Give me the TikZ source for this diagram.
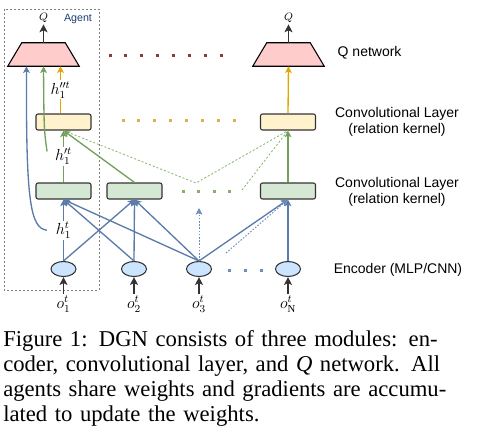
\documentclass[tikz,border=0pt]{standalone}
\usepackage{fontspec}
\setmainfont{Liberation Serif}
\setsansfont{Liberation Sans}
\usetikzlibrary{arrows.meta,calc,shapes.geometric}

\definecolor{lineblue}{HTML}{5B7BAA}
\definecolor{linegreen}{HTML}{73A05A}
\definecolor{lineyellow}{HTML}{E6A400}
\definecolor{qred}{HTML}{FFCCCC}
\definecolor{yellowfill}{HTML}{FFF2CC}
\definecolor{greenfill}{HTML}{D5E8D4}
\definecolor{encblue}{HTML}{CCE5FF}
\definecolor{boxline}{HTML}{333333}
\definecolor{dotred}{HTML}{8E3B3B}
\definecolor{dotyellow}{HTML}{D8B24A}
\definecolor{dotgreen}{HTML}{82B366}
\definecolor{dotblue}{HTML}{6C8EBF}
\definecolor{agentblue}{HTML}{1C3D73}

\tikzset{
  tip/.style={-{Stealth[length=5pt,width=5pt,inset=1.2pt]}},
  qnet/.style={rectangle, minimum width=53.25pt, minimum height=17.25pt, inner sep=0pt},
  convbox/.style={rectangle, rounded corners=1.5pt, draw=boxline, line width=0.8pt,
    minimum width=41.25pt, minimum height=12pt, inner sep=0pt},
  enc/.style={ellipse, draw=boxline, fill=encblue, line width=0.8pt,
    minimum width=18.75pt, minimum height=11.25pt, inner sep=0pt},
  blueline/.style={tip, draw=lineblue, line width=1pt},
  gline/.style={tip, draw=linegreen, line width=1pt},
  yline/.style={tip, draw=lineyellow, line width=1pt},
  inarrow/.style={-{Stealth[length=6pt,width=6pt,inset=1.5pt]}, draw=boxline, line width=1.4pt},
  gdash/.style={draw=dotgreen, line width=0.6pt, dash pattern=on 1.5pt off 1.5pt},
  bdot/.style={tip, draw=dotblue, line width=0.7pt, dash pattern=on 1.2pt off 1.2pt},
  hlab/.style={fill=white, inner sep=1pt, font=\fontsize{11.5}{13}\selectfont},
  olab/.style={inner sep=1pt, font=\fontsize{12}{13}\selectfont},
  qlab/.style={inner sep=1pt, font=\fontsize{8}{9}\selectfont},
  sidelab/.style={align=center, font=\sffamily\fontsize{10.5}{12.5}\selectfont},
}

\begin{document}
\begin{tikzpicture}[x=0.75pt,y=-0.75pt]
\useasboundingbox (0,0) rectangle (479,436);

% agent frame
\draw[gray, line width=0.7pt, dash pattern=on 1.5pt off 1.5pt] (4,9) rectangle (99,290);
\node[font=\sffamily\fontsize{8}{9}\selectfont, text=agentblue] (agent) at (78,19) {Agent};

% Q networks
\node[qnet] (qa) at (43.5,54.5) {};
\node[qnet] (qn) at (288.5,54.5) {};
\foreach \q in {qa,qn}
  \draw[fill=qred, line width=0.8pt] (\q.south west) -- (\q.south east)
    -- ($(\q.north east)+(-14,0)$) -- ($(\q.north west)+(14,0)$) -- cycle;
\node[qlab] (qla) at (43.5,18) {$Q$};
\node[qlab] (qln) at (288.5,18) {$Q$};
\draw[inarrow, line width=1pt] (qa.north) -- (qla.south);
\draw[inarrow, line width=1pt] (qn.north) -- (qln.south);

% convolutional layers
\node[convbox, fill=yellowfill] (ya) at (63.5,122) {};
\node[convbox, fill=yellowfill] (yn) at (288,122) {};
\node[convbox, fill=greenfill] (ga) at (63.5,191) {};
\node[convbox, fill=greenfill] (gb) at (134.5,191) {};
\node[convbox, fill=greenfill] (gn) at (288,191) {};

% encoders
\node[enc] (ea) at (63.5,269) {};
\node[enc] (eb) at (134,269) {};
\node[enc] (ec) at (199,269) {};
\node[enc] (en) at (288,269) {};

% observations
\node[olab] (oa) at (63.5,304) {$o_1^t$};
\node[olab] (ob) at (134,304) {$o_2^t$};
\node[olab] (oc) at (199,304) {$o_3^t$};
\node[olab] (on) at (288,304) {$o_{\mathrm{N}}^t$};
\foreach \o/\e in {oa/ea, ob/eb, oc/ec, on/en}
  \draw[inarrow] (\o.north) -- (\e.south);

% dots
\foreach \i in {0,...,7}
  \fill[dotred] (110+\i*15.9-1.5,53.5) rectangle ++(3,3);
\foreach \i in {0,...,7}
  \fill[dotyellow] (123+\i*15.9-1.5,118.5) rectangle ++(3,3);
\foreach \i in {0,...,3}
  \fill[dotgreen] (183+\i*15.6-1.5,189.5) rectangle ++(3,3);
\foreach \i in {0,...,2}
  \fill[dotblue] (229+\i*16-1.5,268.5) rectangle ++(3,3);

% encoder -> first layer
\draw[blueline] (ea.north) -- node[hlab] (hla) {$h_1^t$} (ga.south);
\foreach \s/\t in {ea/gb, eb/ga, eb/gb, ec/ga, ec/gb, ec/gn, en/gn}
  \draw[blueline] (\s.north) -- (\t.south);
\coordinate (cup) at (199,208);
\coordinate (cside) at (226,253);
\draw[bdot] (ec.north) -- (cup);
\draw[bdot] (cside) -- (gn.south);
\draw[blueline] ($(hla.west)+(-7,0)$) .. controls (30,228) and (26,200) .. ($(qa.south)+(-17,0)$);

% first layer -> second layer
\draw[gline] (ga.north) -- node[hlab] (hlb) {$h_1^{\prime t}$} (ya.south);
\draw[gline] (gb.north) -- (ya.south);
\draw[gline] (gn.north) -- (yn.south);
\coordinate (gv) at (196,183);
\coordinate (gw) at (242,190);
\draw[gdash] (ya.south) -- (gv) -- (yn.south);
\draw[gdash] (gw) -- (yn.south);
\draw[gline] ($(hlb.west)+(-6,-5)$) .. controls (44,130) .. (qa.south);

% second layer -> Q network
\coordinate (qay) at ($(qa.south)+(17,0)$);
\draw[yline] (ya.north -| qay) -- node[hlab] (hlc) {$h_1^{\prime\prime t}$} (qay);
\draw[yline] (yn.north) -- (qn.south);

% side labels
\node[sidelab, anchor=west] (lq) at (333,53) {Q network};
\node[sidelab] (lc2) at (397,122) {Convolutional Layer\\(relation kernel)};
\node[sidelab] (lc1) at (397,192) {Convolutional Layer\\(relation kernel)};
\node[sidelab] (le) at (398,270) {Encoder (MLP/CNN)};

% caption
\node[anchor=north west, inner sep=0pt, text width=345pt, align=left,
  font=\fontsize{17}{18.75}\selectfont] (cap) at (3,330) {%
\makebox[345pt][s]{Figure 1: DGN consists of three modules: en-}\\
\makebox[345pt][s]{coder, convolutional layer, and \textit{Q} network. All}\\
\makebox[345pt][s]{agents share weights and gradients are accumu-}\\
lated to update the weights.};
\end{tikzpicture}
\end{document}
